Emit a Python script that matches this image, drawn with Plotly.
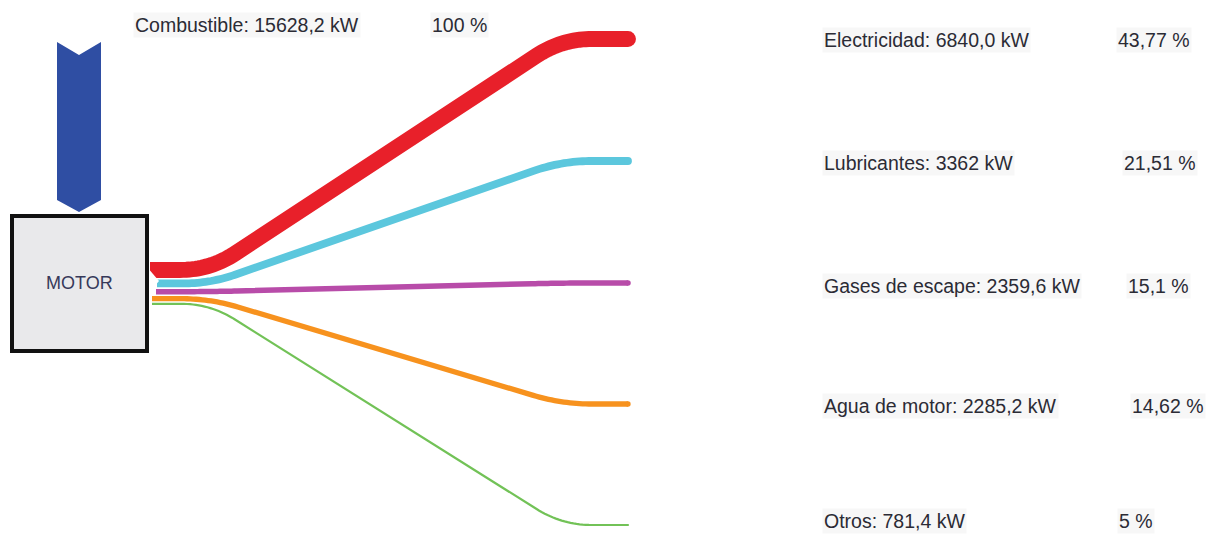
import numpy as np
import plotly.graph_objects as go

# ---------------- data ----------------
source_label = "Combustible"
source_kw_text = "15628,2 kW"
source_pct_text = "100 %"
center_label = "MOTOR"

categories = ["Electricidad", "Lubricantes", "Gases de escape", "Agua de motor", "Otros"]
values_kw = [6840.0, 3362.0, 2359.6, 2285.2, 781.4]
kw_texts = ["6840,0 kW", "3362 kW", "2359,6 kW", "2285,2 kW", "781,4 kW"]
pct_texts = ["43,77 %", "21,51 %", "15,1 %", "14,62 %", "5 %"]
colors = ["#e8202a", "#5cc7dd", "#b84ca9", "#f7921e", "#72c257"]

# ---------------- layout constants ----------------
W, H = 1213, 535
KW_PER_PX = 430.0
start_top = 262.0
gap = 1.6
x_start = [150, 157, 156, 152, 152]
x_bend1 = 210
x_bend2 = 562
x_end = 628
end_y = [39, 161, 283, 404, 525]
label_x = 822
label_y = [40, 163, 286, 406, 521]
pct_x = [1116, 1122, 1126, 1130, 1117]
text_color = "#2b2b35"
font_fam = "Liberation Sans, Arial, sans-serif"
fsize = 19.5


def rounded(pts, r):
    pts = [np.array(p, dtype=float) for p in pts]
    out = [pts[0]]
    for i in range(1, len(pts) - 1):
        p0, p1, p2 = pts[i - 1], pts[i], pts[i + 1]
        d1 = np.linalg.norm(p0 - p1)
        d2 = np.linalg.norm(p2 - p1)
        rr = min(r, d1 / 2, d2 / 2)
        a = p1 + (p0 - p1) / d1 * rr
        b = p1 + (p2 - p1) / d2 * rr
        for t in np.linspace(0, 1, 20):
            out.append((1 - t) ** 2 * a + 2 * (1 - t) * t * p1 + t ** 2 * b)
    out.append(pts[-1])
    arr = np.array(out)
    return arr[:, 0], arr[:, 1]


fig = go.Figure()

# flows
widths = [v / KW_PER_PX for v in values_kw]
y = start_top
for i, (cat, w) in enumerate(zip(categories, widths)):
    yc = y + w / 2
    y += w + gap
    pts = [(x_start[i], yc), (x_bend1, yc), (x_bend2, end_y[i]), (x_end, end_y[i])]
    xs, ys = rounded(pts, 30)
    fig.add_trace(go.Scatter(x=xs, y=ys, mode="lines",
                             line=dict(color=colors[i], width=max(w, 2.2), simplify=False),
                             hoverinfo="skip", showlegend=False))
    fig.add_trace(go.Scatter(x=[x_end], y=[end_y[i]], mode="markers",
                             marker=dict(color=colors[i], size=max(w, 2.2), line=dict(width=0)),
                             hoverinfo="skip", showlegend=False))

# notch at the left of the flows
fig.add_trace(go.Scatter(x=[147, 159, 147, 147], y=[267, 281, 295, 267], mode="lines",
                         fill="toself", fillcolor="white", line=dict(width=0),
                         hoverinfo="skip", showlegend=False))

# input arrow
ax = [57, 79, 101, 101, 79, 57, 57]
ay = [42, 55, 42, 200, 212, 200, 42]
fig.add_trace(go.Scatter(x=ax, y=ay, mode="lines", fill="toself",
                         fillcolor="#2f4ea3", line=dict(width=0, color="#2f4ea3"),
                         hoverinfo="skip", showlegend=False))

# motor box
fig.add_shape(type="rect", x0=12, y0=216, x1=147, y1=351,
              line=dict(color="#111111", width=4), fillcolor="#e9e9eb", layer="above")

annotations = []
annotations.append(dict(x=79, y=283, text=center_label, showarrow=False,
                        font=dict(size=18, color="#36395a", family=font_fam)))
annotations.append(dict(x=133, y=25, text=f"{source_label}: {source_kw_text}", showarrow=False,
                        xanchor="left", font=dict(size=fsize, color=text_color, family=font_fam),
                        bgcolor="#f7f7f7"))
annotations.append(dict(x=430, y=25, text=source_pct_text, showarrow=False,
                        xanchor="left", font=dict(size=fsize, color=text_color, family=font_fam),
                        bgcolor="#f7f7f7"))
for i, cat in enumerate(categories):
    annotations.append(dict(x=label_x, y=label_y[i], text=f"{cat}: {kw_texts[i]}",
                            showarrow=False, xanchor="left",
                            font=dict(size=fsize, color=text_color, family=font_fam),
                            bgcolor="#f7f7f7"))
    annotations.append(dict(x=pct_x[i], y=label_y[i], text=pct_texts[i],
                            showarrow=False, xanchor="left",
                            font=dict(size=fsize, color=text_color, family=font_fam),
                            bgcolor="#f7f7f7"))

fig.update_layout(
    width=W, height=H,
    margin=dict(l=0, r=0, t=0, b=0),
    paper_bgcolor="white", plot_bgcolor="white",
    xaxis=dict(range=[0, W], visible=False, fixedrange=True),
    yaxis=dict(range=[H, 0], visible=False, fixedrange=True),
    annotations=annotations,
    showlegend=False,
)

fig.write_html("out.html")
